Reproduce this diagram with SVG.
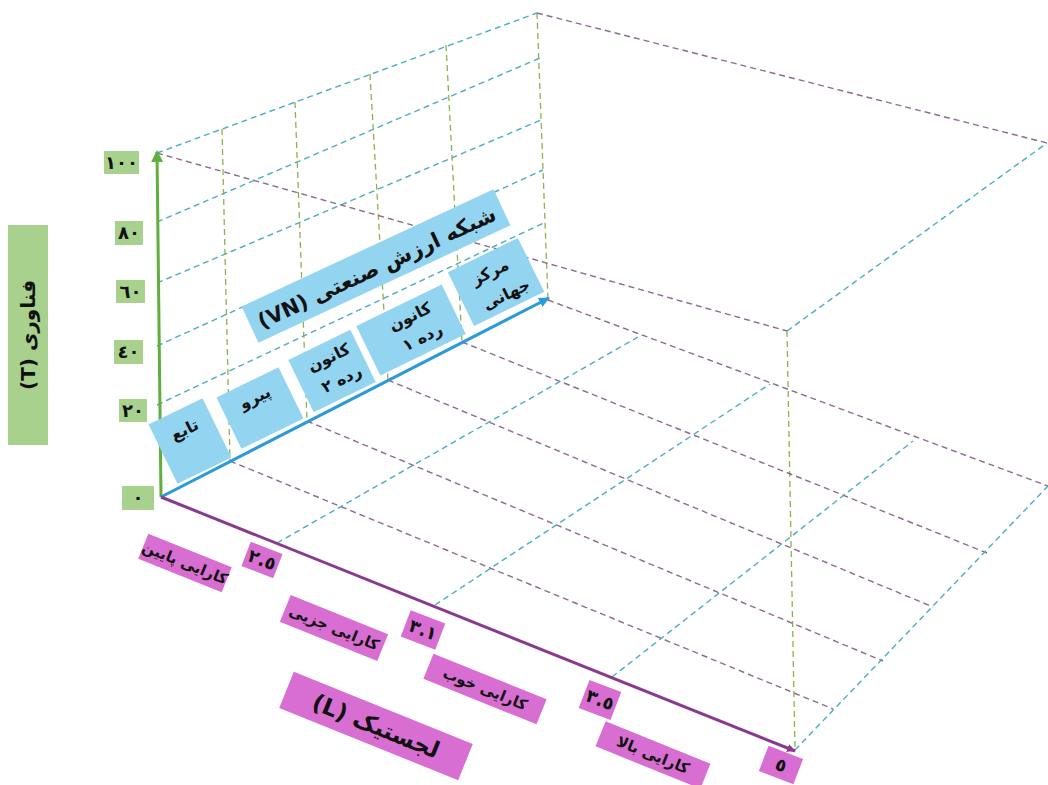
<svg xmlns="http://www.w3.org/2000/svg" width="1048" height="785" viewBox="0 0 1048 785">
<style>
.gb{fill:#a9d18e}
.bb{fill:#93d4f1}
.pb{fill:#d86ed1}
.t{font-family:"DejaVu Sans",sans-serif;font-weight:bold;fill:#111;text-anchor:middle}
.n{font-size:18px}
.db{stroke:#4bacc6;stroke-width:1.4;stroke-dasharray:6 4;fill:none}
.dp{stroke:#8e6a90;stroke-width:1.4;stroke-dasharray:6 4;fill:none}
.dg{stroke:#8fb050;stroke-width:1.3;stroke-dasharray:6 4;fill:none}
</style>
<defs>
<marker id="ag" markerUnits="userSpaceOnUse" markerWidth="14" markerHeight="14" refX="10" refY="6" orient="auto"><path d="M0,0 L12,6 L0,12 Z" fill="#5fae3e"/></marker>
<marker id="ab" markerUnits="userSpaceOnUse" markerWidth="14" markerHeight="14" refX="10" refY="5" orient="auto"><path d="M0,0 L11,5 L0,10 Z" fill="#2a9ad8"/></marker>
<marker id="ap" markerUnits="userSpaceOnUse" markerWidth="12" markerHeight="12" refX="8" refY="4" orient="auto"><path d="M0,0 L9,4 L0,8 Z" fill="#8a3a8e"/></marker>
</defs>
<rect width="1048" height="785" fill="#fff"/>
<g id="connectors">
<line class="db" x1="157" y1="153" x2="537" y2="13"/>
<line class="db" x1="157" y1="222" x2="540" y2="58"/>
<line class="db" x1="157" y1="283" x2="541" y2="120"/>
<line class="db" x1="157" y1="346" x2="543" y2="170"/>
<line class="db" x1="157" y1="405" x2="546" y2="222"/>
<line class="dg" x1="222" y1="129" x2="230" y2="461"/>
<line class="dg" x1="295" y1="102" x2="307" y2="421"/>
<line class="dg" x1="370" y1="74" x2="388" y2="380"/>
<line class="dg" x1="446" y1="45" x2="462" y2="342"/>
<line class="dg" x1="537" y1="13" x2="548" y2="300"/>
<line class="dp" x1="157" y1="153" x2="787" y2="331"/>
<line class="dp" x1="537" y1="13" x2="1047" y2="143"/>
<line class="db" x1="787" y1="331" x2="1047" y2="143"/>
<line class="dg" x1="787" y1="331" x2="795" y2="750"/>
<line class="dp" x1="230" y1="461" x2="833" y2="709"/>
<line class="dp" x1="307" y1="421" x2="883" y2="661"/>
<line class="dp" x1="388" y1="380" x2="933" y2="607"/>
<line class="dp" x1="462" y1="342" x2="987" y2="553"/>
<line class="dp" x1="548" y1="300" x2="1048" y2="486"/>
<line class="db" x1="277" y1="543" x2="638" y2="337"/>
<line class="db" x1="435" y1="605" x2="770" y2="384"/>
<line class="db" x1="612" y1="677" x2="913" y2="441"/>
<line class="db" x1="795" y1="750" x2="1048" y2="486"/>
<line x1="161" y1="497" x2="157" y2="152" stroke="#5fae3e" stroke-width="3" marker-end="url(#ag)"/>
<line x1="161" y1="497" x2="549" y2="298" stroke="#2a9ad8" stroke-width="3" marker-end="url(#ab)"/>
<line x1="161" y1="497" x2="795" y2="751" stroke="#8a3a8e" stroke-width="3" marker-end="url(#ap)"/>
</g>
<g id="t100"><rect class="gb" x="104" y="151" width="35" height="23"/><text class="t n" x="121.5" y="169">١٠٠</text></g>
<g id="t80"><rect class="gb" x="115" y="221" width="28" height="24"/><text class="t n" x="129" y="239">٨٠</text></g>
<g id="t60"><rect class="gb" x="116" y="280" width="29" height="23"/><text class="t n" x="130.5" y="298">٦٠</text></g>
<g id="t40"><rect class="gb" x="114" y="340" width="29" height="24"/><text class="t n" x="128.5" y="358">٤٠</text></g>
<g id="t20"><rect class="gb" x="119" y="399" width="28" height="23"/><text class="t n" x="133" y="417">٢٠</text></g>
<g id="t0"><rect class="gb" x="122" y="486" width="32" height="24"/><text class="t n" x="138" y="504">٠</text></g>
<g id="tTitle"><rect class="gb" x="8" y="225" width="40" height="220"/><text class="t" transform="translate(28,335) rotate(-90)" y="7" font-size="20" direction="rtl">فناوری (T)</text></g>
<g id="vn1" transform="translate(190,441) rotate(-26)"><rect class="bb" x="-30" y="-33" width="60" height="66"/><text class="t" y="-7" font-size="16" direction="rtl">تابع</text></g>
<g id="vn2" transform="translate(260,408) rotate(-26)"><rect class="bb" x="-34.5" y="-28.5" width="69" height="57"/><text class="t" y="-6" font-size="16" direction="rtl">پیرو</text></g>
<g id="vn3" transform="translate(332,371) rotate(-26)"><rect class="bb" x="-34.5" y="-29" width="69" height="58"/><text class="t" x="3" y="-8" font-size="16" direction="rtl">کانون</text><text class="t" x="5" y="17" font-size="16" direction="rtl">رده ٢</text></g>
<g id="vn4" transform="translate(411,330) rotate(-26)"><rect class="bb" x="-47.5" y="-27.5" width="95" height="55"/><text class="t" x="5" y="-7" font-size="16" direction="rtl">کانون</text><text class="t" x="7" y="17" font-size="16" direction="rtl">رده ١</text></g>
<g id="vn5" transform="translate(496,282) rotate(-26)"><rect class="bb" x="-39" y="-30" width="78" height="60"/><text class="t" x="-1" y="-6" font-size="16" direction="rtl">مرکز</text><text class="t" x="4" y="21" font-size="16" direction="rtl">جهانی</text></g>
<g id="vnTitle" transform="translate(376,266) rotate(-25)"><rect class="bb" x="-139" y="-20" width="278" height="40"/><text class="t" y="9" font-size="21" direction="rtl">شبکه ارزش صنعتی (VN)</text></g>
<g id="l1" transform="translate(185,563) rotate(22)"><rect class="pb" x="-45" y="-13.5" width="90" height="27"/><text class="t" y="5" font-size="15" direction="rtl">کارایی پایین</text></g>
<g id="l25" transform="translate(262,560) rotate(21)"><rect class="pb" x="-17" y="-13" width="34" height="26"/><text class="t n" y="6">٢.٥</text></g>
<g id="l2" transform="translate(334,628) rotate(22)"><rect class="pb" x="-52.5" y="-14.5" width="105" height="29"/><text class="t" y="5" font-size="15" direction="rtl">کارایی جزیی</text></g>
<g id="l31" transform="translate(423,630) rotate(21)"><rect class="pb" x="-18.5" y="-14" width="37" height="28"/><text class="t n" y="6">٣.١</text></g>
<g id="l3" transform="translate(485,689) rotate(22)"><rect class="pb" x="-61" y="-13.5" width="122" height="27"/><text class="t" y="5" font-size="15" direction="rtl">کارایی خوب</text></g>
<g id="l35" transform="translate(600,700) rotate(21)"><rect class="pb" x="-17" y="-15" width="34" height="30"/><text class="t n" y="6">٣.٥</text></g>
<g id="l4" transform="translate(653,755) rotate(22)"><rect class="pb" x="-56.5" y="-13.5" width="113" height="27"/><text class="t" y="5" font-size="15" direction="rtl">کارایی بالا</text></g>
<g id="l5" transform="translate(781,765) rotate(21)"><rect class="pb" x="-18.5" y="-13.5" width="37" height="27"/><text class="t n" y="6">٥</text></g>
<g id="lTitle" transform="translate(376,726) rotate(22)"><rect class="pb" x="-96.5" y="-19.5" width="193" height="39"/><text class="t" y="8" font-size="23" direction="rtl">لجستیک (L)</text></g>
</svg>
